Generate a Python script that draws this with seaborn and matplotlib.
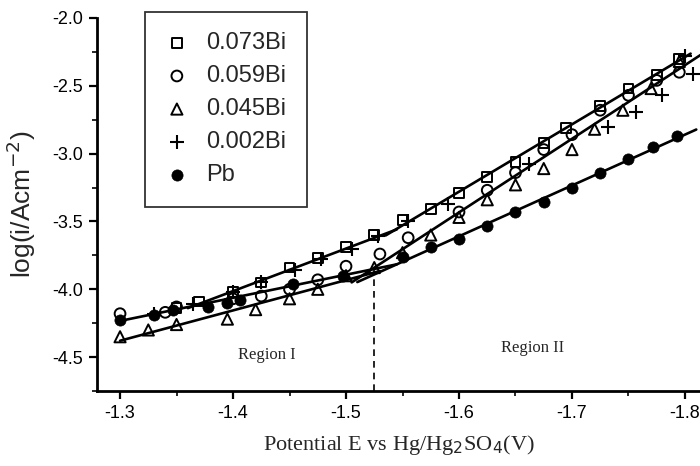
import numpy as np
import pandas as pd
import matplotlib
matplotlib.use("Agg")
import matplotlib.pyplot as plt
from matplotlib.ticker import MultipleLocator, FuncFormatter
import seaborn as sns

# Polarisation data: potential E (V vs Hg/Hg2SO4) and log current density
e_073 = [-1.35, -1.37, -1.40, -1.425, -1.45, -1.475, -1.50, -1.525, -1.55, -1.575,
         -1.60, -1.625, -1.65, -1.675, -1.695, -1.725, -1.75, -1.775, -1.795]
i_073 = [-4.14, -4.09, -4.02, -3.95, -3.84, -3.77, -3.69, -3.60, -3.49, -3.41,
         -3.29, -3.17, -3.06, -2.92, -2.81, -2.65, -2.52, -2.42, -2.30]

e_059 = [-1.30, -1.34, -1.35, -1.40, -1.425, -1.45, -1.475, -1.50, -1.53, -1.555,
         -1.60, -1.625, -1.65, -1.675, -1.70, -1.725, -1.75, -1.775, -1.795]
i_059 = [-4.18, -4.17, -4.13, -4.07, -4.05, -4.00, -3.93, -3.83, -3.74, -3.62,
         -3.43, -3.27, -3.14, -2.97, -2.86, -2.68, -2.57, -2.46, -2.40]

e_045 = [-1.30, -1.325, -1.35, -1.395, -1.42, -1.45, -1.475, -1.50, -1.525, -1.55,
         -1.575, -1.60, -1.625, -1.65, -1.675, -1.70, -1.72, -1.745, -1.77, -1.795]
i_045 = [-4.35, -4.30, -4.26, -4.22, -4.15, -4.07, -4.00, -3.90, -3.84, -3.73,
         -3.60, -3.47, -3.34, -3.23, -3.11, -2.97, -2.82, -2.68, -2.52, -2.32]

e_002 = [-1.33, -1.365, -1.40, -1.425, -1.455, -1.478, -1.505, -1.528, -1.555, -1.59,
         -1.662, -1.732, -1.757, -1.78, -1.80, -1.807]
i_002 = [-4.18, -4.11, -4.02, -3.95, -3.86, -3.78, -3.70, -3.61, -3.50, -3.37,
         -3.08, -2.80, -2.69, -2.57, -2.28, -2.41]

e_pb = [-1.30, -1.33, -1.347, -1.378, -1.395, -1.406, -1.453, -1.497, -1.55, -1.575,
        -1.60, -1.625, -1.65, -1.675, -1.70, -1.725, -1.75, -1.772, -1.793]
i_pb = [-4.23, -4.19, -4.15, -4.13, -4.10, -4.08, -3.96, -3.90, -3.76, -3.69,
        -3.63, -3.53, -3.43, -3.36, -3.25, -3.14, -3.04, -2.95, -2.87]

labels = ["0.073Bi", "0.059Bi", "0.045Bi", "0.002Bi", "Pb"]
E_TRANSITION = -1.525

series = {
    "0.073Bi": (e_073, i_073),
    "0.059Bi": (e_059, i_059),
    "0.045Bi": (e_045, i_045),
    "0.002Bi": (e_002, i_002),
    "Pb": (e_pb, i_pb),
}

frames = [pd.DataFrame({"E": e, "logi": i, "alloy": name})
          for name, (e, i) in series.items()]
df = pd.concat(frames, ignore_index=True)

# Tafel fits: (alloys used, fitted potential window, drawn potential span)
fits = [
    (["0.073Bi", "0.002Bi"], (-1.36, -1.53), (-1.36, -1.545)),
    (["0.073Bi"], (-1.54, -1.80), (-1.535, -1.805)),
    (["Pb", "0.059Bi"], (-1.29, -1.51), (-1.30, -1.545)),
    (["0.045Bi"], (-1.29, -1.53), (-1.30, -1.53)),
    (["0.059Bi", "0.045Bi"], (-1.53, -1.80), (-1.505, -1.815)),
    (["Pb"], (-1.54, -1.80), (-1.51, -1.81)),
]

sns.set_style("white")
plt.rcParams["font.family"] = ["Liberation Sans", "DejaVu Sans"]

fig = plt.figure(figsize=(7.0, 4.66), dpi=100)
ax = fig.add_axes([97 / 700, 75 / 466, 603 / 700, 373 / 466])

styles = {
    "0.073Bi": dict(marker="s", s=50, facecolor="none", edgecolor="black", linewidth=1.4),
    "0.059Bi": dict(marker="o", s=60, facecolor="none", edgecolor="black", linewidth=1.4),
    "0.045Bi": dict(marker="^", s=65, facecolor="none", edgecolor="black", linewidth=1.4),
    "0.002Bi": dict(marker="+", s=90, color="black", linewidth=1.5),
    "Pb": dict(marker="o", s=65, color="black", edgecolor="black", linewidth=0.5),
}

for name in labels:
    sub = df[df["alloy"] == name]
    sns.scatterplot(data=sub, x="E", y="logi", ax=ax, label=name, zorder=3,
                    **styles[name])

for alloys, (lo, hi), (d0, d1) in fits:
    sub = df[df["alloy"].isin(alloys) & (df["E"] <= lo) & (df["E"] >= hi)]
    k, b = np.polyfit(sub["E"], sub["logi"], 1)
    xs = np.array([d0, d1])
    ax.plot(xs, k * xs + b, color="black", linewidth=1.9, zorder=2)

# boundary between the two Tafel regions
ax.plot([E_TRANSITION, E_TRANSITION], [-4.75, -3.85], color="black",
        linestyle=(0, (4, 3)), linewidth=1.2, zorder=2)

ax.text(-1.43, -4.485, "Region I", family="Liberation Serif", fontsize=12,
        ha="center", va="center")
ax.text(-1.665, -4.43, "Region II", family="Liberation Serif", fontsize=12,
        ha="center", va="center")

ax.set_xlim(-1.2796, -1.8133)
ax.set_ylim(-4.75, -2.0)
ax.xaxis.set_major_locator(MultipleLocator(0.1))
ax.xaxis.set_minor_locator(MultipleLocator(0.05))
ax.yaxis.set_major_locator(MultipleLocator(0.5))
ax.yaxis.set_minor_locator(MultipleLocator(0.25))
ax.xaxis.set_major_formatter(FuncFormatter(lambda v, p: f"{v:.1f}"))
ax.yaxis.set_major_formatter(FuncFormatter(lambda v, p: f"{v:.1f}"))

ax.tick_params(which="major", direction="out", length=6, width=1.6,
               labelsize=13, colors="black", pad=4)
ax.tick_params(which="minor", direction="out", length=3.5, width=1.4)
ax.tick_params(axis="x", which="both", bottom=True)
ax.tick_params(axis="y", which="both", left=True)

for side in ("top", "right"):
    ax.spines[side].set_visible(False)
for side in ("left", "bottom"):
    ax.spines[side].set_color("black")
    ax.spines[side].set_linewidth(2.0)

ax.set_xlabel("Potential E vs Hg/Hg$_2$SO$_4$(V)", family="Liberation Serif",
              fontsize=16, labelpad=8)
ax.set_ylabel("log(i/Acm$^{-2}$)", fontsize=19, labelpad=10)

leg = ax.legend(loc="upper left", bbox_to_anchor=(145 / 700, 1 - 12 / 466),
                bbox_transform=fig.transFigure, fontsize=17, frameon=True,
                fancybox=False, edgecolor="black", handlelength=1.0,
                handletextpad=0.75, labelspacing=0.47, borderpad=0.85,
                borderaxespad=0)
leg.get_frame().set_linewidth(1.3)

fig.savefig("out.png", dpi=100)
